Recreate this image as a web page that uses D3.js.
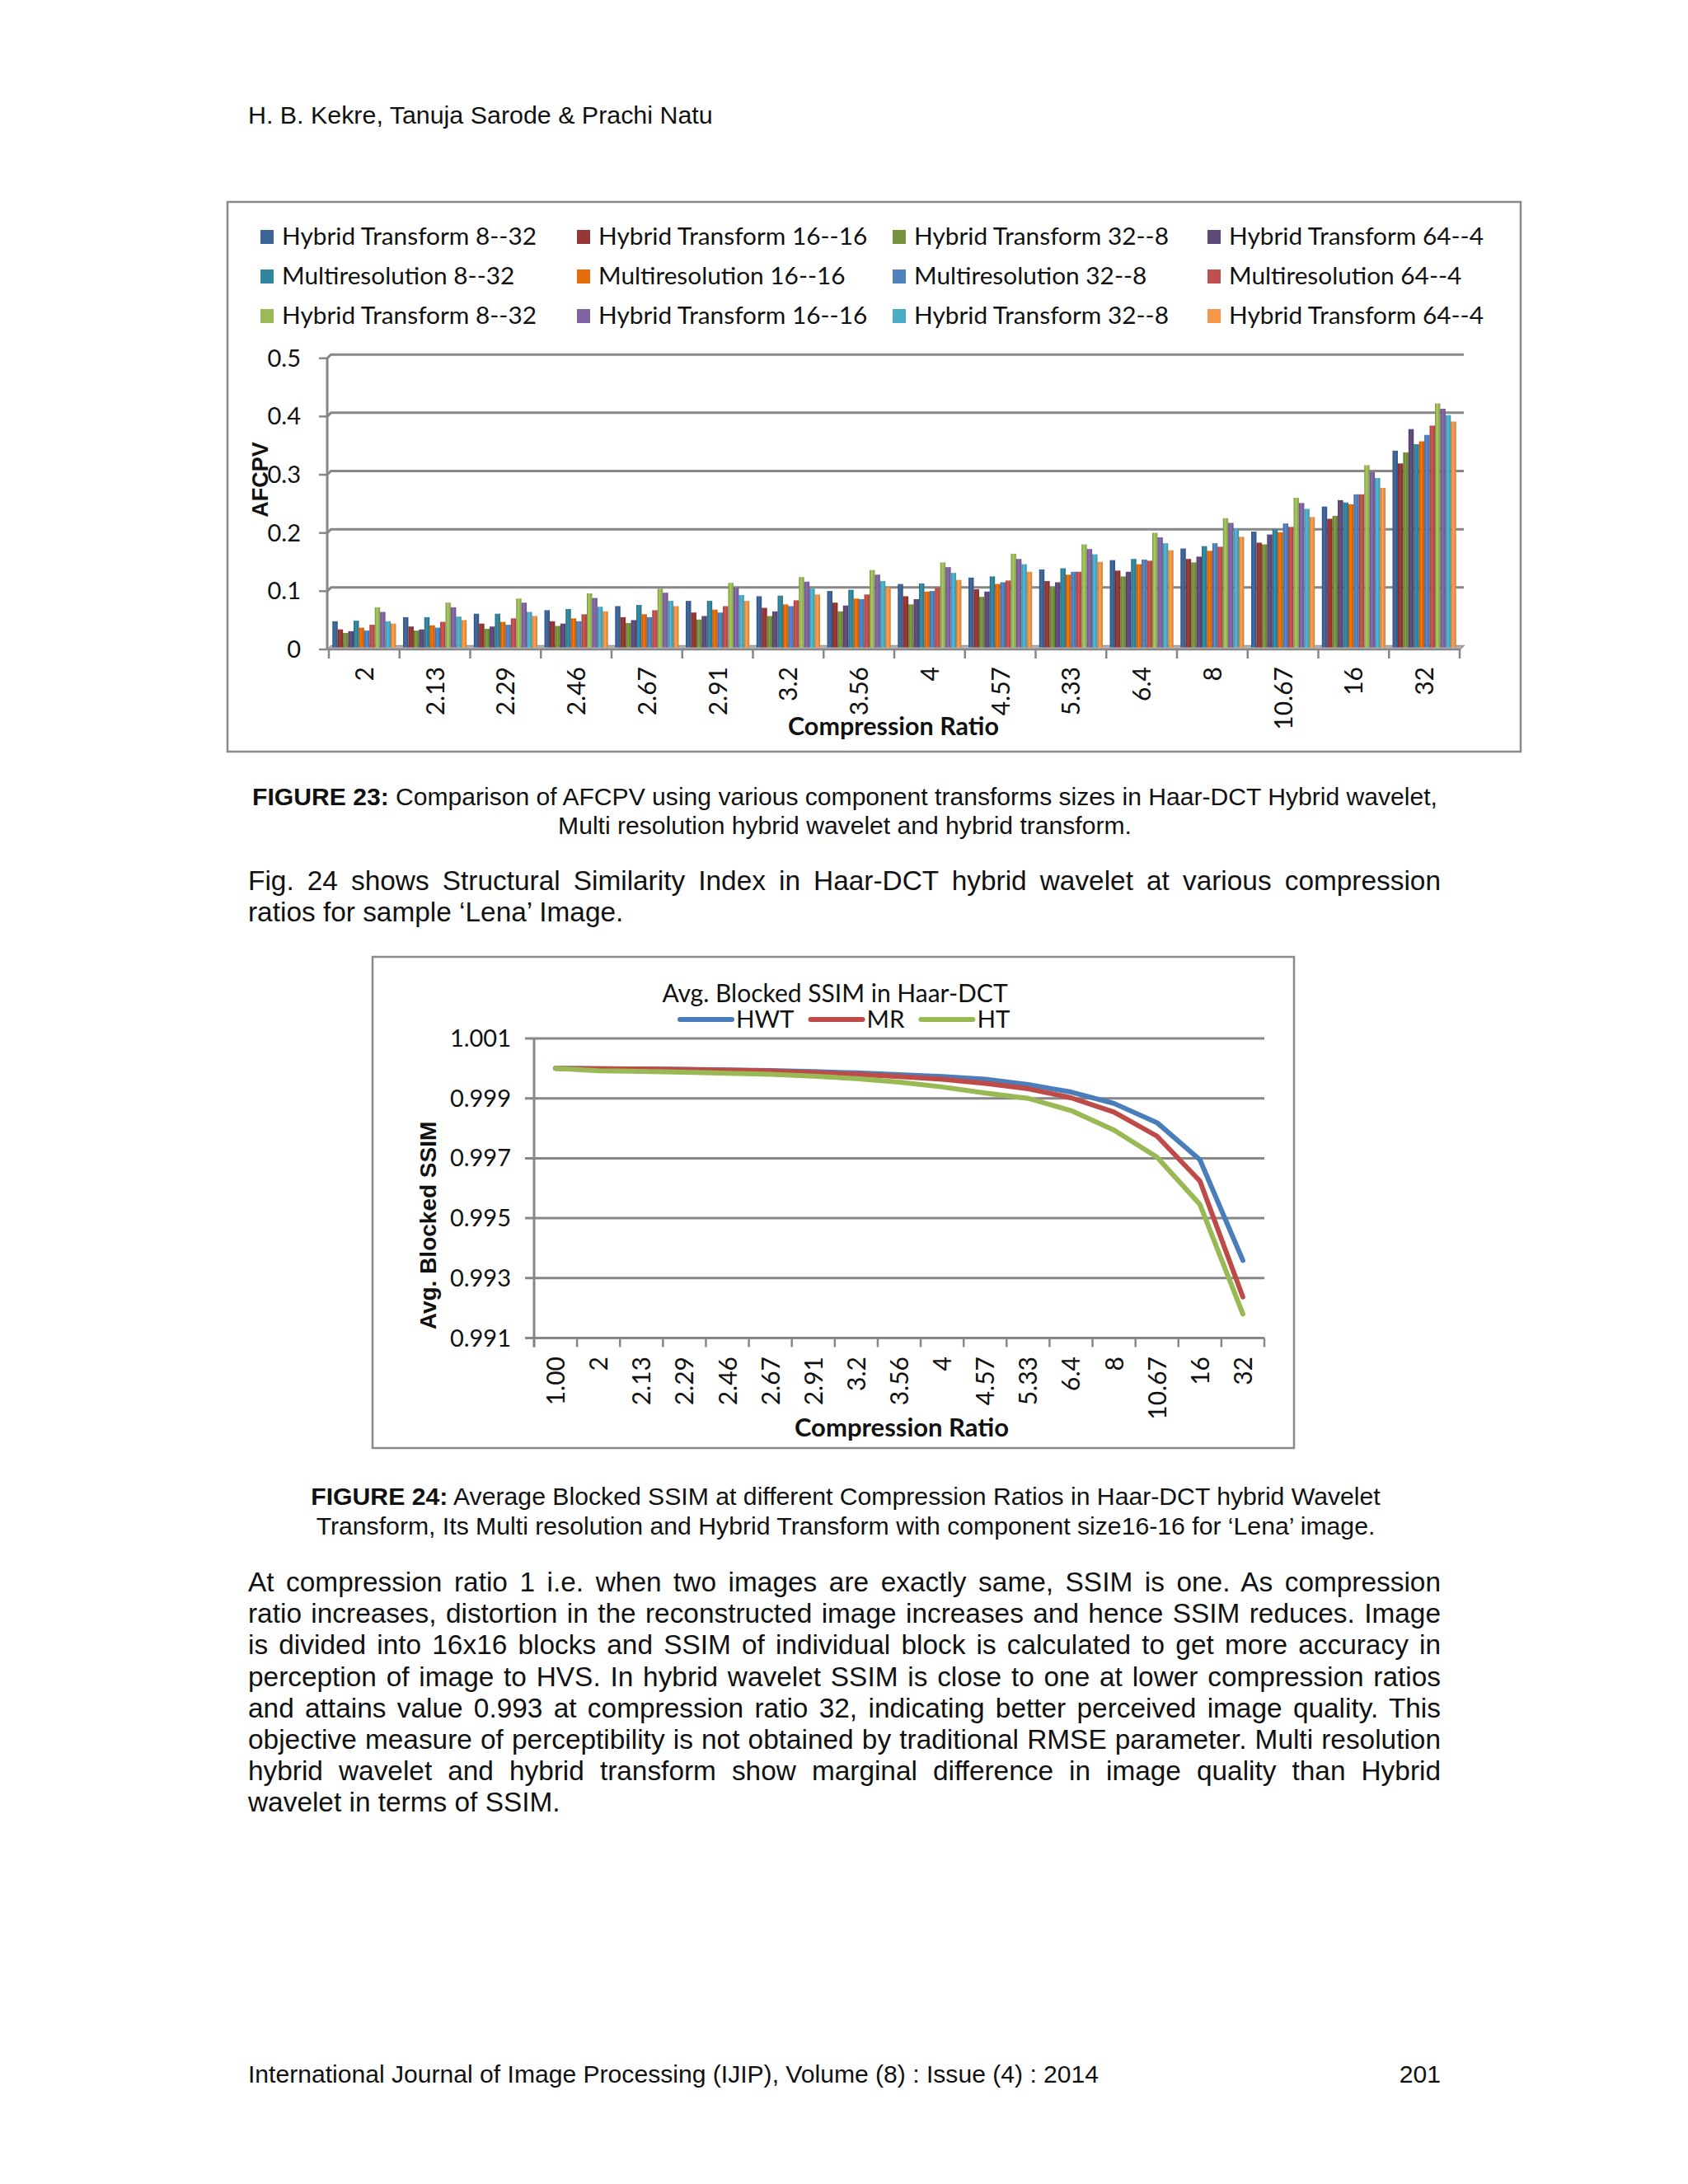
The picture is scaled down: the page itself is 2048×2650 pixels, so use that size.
<!DOCTYPE html>
<html><head><meta charset="utf-8">
<script src="https://cdn.jsdelivr.net/npm/d3@7/dist/d3.min.js"></script>
<style>body{margin:0;background:#fff}</style>
</head><body>
<svg id="page" width="2048" height="2650" xmlns="http://www.w3.org/2000/svg"></svg>
<script>
// ---------------- DATA ----------------
const categories1 = ["2","2.13","2.29","2.46","2.67","2.91","3.2","3.56","4","4.57","5.33","6.4","8","10.67","16","32"];
const seriesNames1 = ["Hybrid Transform 8--32","Hybrid Transform 16--16","Hybrid Transform 32--8","Hybrid Transform 64--4",
  "Multiresolution 8--32","Multiresolution 16--16","Multiresolution 32--8","Multiresolution 64--4",
  "Hybrid Transform 8--32","Hybrid Transform 16--16","Hybrid Transform 32--8","Hybrid Transform 64--4"];
const ht8_32   = [0.042,0.049,0.055,0.061,0.068,0.077,0.085,0.094,0.106,0.117,0.131,0.147,0.167,0.196,0.239,0.335];
const ht16_16  = [0.028,0.033,0.038,0.042,0.049,0.057,0.065,0.074,0.085,0.097,0.111,0.129,0.149,0.177,0.218,0.313];
const ht32_8   = [0.022,0.026,0.029,0.034,0.039,0.045,0.051,0.059,0.071,0.084,0.100,0.119,0.143,0.174,0.223,0.332];
const ht64_4   = [0.025,0.028,0.033,0.038,0.044,0.051,0.059,0.069,0.080,0.093,0.109,0.127,0.153,0.191,0.250,0.372];
const mr8_32   = [0.043,0.049,0.055,0.063,0.070,0.077,0.086,0.096,0.107,0.119,0.133,0.149,0.171,0.200,0.246,0.346];
const mr16_16  = [0.031,0.035,0.041,0.047,0.054,0.062,0.071,0.081,0.093,0.106,0.122,0.140,0.163,0.195,0.243,0.351];
const mr32_8   = [0.026,0.031,0.036,0.042,0.049,0.057,0.068,0.080,0.094,0.109,0.127,0.148,0.176,0.210,0.260,0.362];
const mr64_4   = [0.036,0.041,0.047,0.054,0.061,0.068,0.078,0.088,0.100,0.112,0.127,0.146,0.170,0.204,0.260,0.378];
const htb8_32  = [0.066,0.074,0.081,0.090,0.098,0.108,0.118,0.130,0.143,0.158,0.174,0.194,0.219,0.254,0.310,0.416];
const htb16_16 = [0.058,0.066,0.074,0.082,0.091,0.100,0.110,0.122,0.135,0.149,0.166,0.186,0.211,0.245,0.298,0.407];
const htb32_8  = [0.042,0.050,0.058,0.067,0.077,0.087,0.098,0.111,0.125,0.140,0.157,0.176,0.201,0.235,0.288,0.396];
const htb64_4  = [0.038,0.044,0.051,0.059,0.068,0.077,0.088,0.100,0.113,0.127,0.144,0.164,0.187,0.221,0.271,0.385];
const yTicks1 = [0, 0.1, 0.2, 0.3, 0.4, 0.5];

const categories2 = ["1.00","2","2.13","2.29","2.46","2.67","2.91","3.2","3.56","4","4.57","5.33","6.4","8","10.67","16","32"];
const seriesNames2 = ["HWT","MR","HT"];
const hwt = [1.0000,0.99999,0.99998,0.99997,0.99995,0.99993,0.99989,0.99985,0.99979,0.99973,0.99964,0.99946,0.99921,0.99883,0.99819,0.99695,0.99359];
const mr  = [1.0000,0.99999,0.99998,0.99996,0.99994,0.99991,0.99986,0.99980,0.99973,0.99964,0.99950,0.99932,0.99902,0.99854,0.99774,0.99624,0.99237];
const ht  = [1.0000,0.99992,0.99990,0.99987,0.99984,0.99980,0.99974,0.99966,0.99954,0.99938,0.99918,0.99900,0.99859,0.99794,0.99704,0.99546,0.99180];
const yTicks2 = [0.991, 0.993, 0.995, 0.997, 0.999, 1.001];

// ---------------- STYLE ----------------
const palette1 = ["#3d6497","#953735","#76923c","#604a7b","#31859c","#e46c0a",
                  "#4f81bd","#c0504d","#9bbb59","#8064a2","#4bacc6","#f79646"];
const palette2 = ["#4a7ebb","#be4b48","#98b954"];
const GRID = "#878787";
const BODY = "'Liberation Sans', Arial, sans-serif";
const CAL = "Lato, Carlito, Calibri, sans-serif";

const svg = d3.select("#page");
const defs = svg.append("defs");

// ---------------- PAGE TEXT ----------------
function txt(x, y, s, size, opts = {}) {
  const t = svg.append("text").attr("x", x).attr("y", y)
    .attr("font-family", opts.family || BODY).attr("font-size", size)
    .attr("fill", "#111").attr("text-anchor", opts.anchor || "start");
  if (opts.bold) t.attr("font-weight", "bold");
  t.text(s);
  return t;
}
function justified(x, y, width, s, size, justify) {
  const t = txt(x, y, s, size);
  if (justify) {
    const w = t.node().getComputedTextLength();
    const n = (s.match(/ /g) || []).length;
    if (n) t.attr("word-spacing", (width - w) / n);
  }
}
function caption(cx, y, boldPart, rest, size) {
  const t = svg.append("text").attr("x", cx).attr("y", y).attr("text-anchor", "middle")
    .attr("font-family", BODY).attr("font-size", size).attr("fill", "#111");
  if (boldPart) t.append("tspan").attr("font-weight", "bold").text(boldPart);
  t.append("tspan").text(rest);
}

txt(301, 150, "H. B. Kekre, Tanuja Sarode & Prachi Natu", 30.4);

caption(1025, 977, "FIGURE 23:", " Comparison of AFCPV using various component transforms sizes in Haar-DCT Hybrid wavelet,", 30.1);
caption(1025, 1012, "", "Multi resolution hybrid wavelet and hybrid transform.", 30.1);

const TXT_L = 301, TXT_W = 1447, BFS = 33.4;
justified(TXT_L, 1080, TXT_W, "Fig. 24 shows Structural Similarity Index in Haar-DCT hybrid wavelet at various compression", BFS, true);
justified(TXT_L, 1118, TXT_W, "ratios for sample \u2018Lena\u2019 Image.", BFS, false);

caption(1026, 1826, "FIGURE 24:", " Average Blocked SSIM at different Compression Ratios in Haar-DCT hybrid Wavelet", 30.2);
caption(1026, 1862, "", "Transform, Its Multi resolution and Hybrid Transform with component size16-16 for \u2018Lena\u2019 image.", 30.2);

const para = [
  "At compression ratio 1 i.e. when two images are exactly same, SSIM is one. As compression",
  "ratio increases, distortion in the reconstructed image increases and hence SSIM reduces. Image",
  "is divided into 16x16 blocks and SSIM of individual block is calculated to get more accuracy in",
  "perception of image to HVS. In hybrid wavelet SSIM is close to one at lower compression ratios",
  "and attains value 0.993 at compression ratio 32, indicating better perceived image quality. This",
  "objective measure of perceptibility is not obtained by traditional RMSE parameter. Multi resolution",
  "hybrid wavelet and hybrid transform show marginal difference in image quality than Hybrid",
  "wavelet in terms of SSIM."
];
para.forEach((s, i) => justified(TXT_L, 1931 + i * 38.2, TXT_W, s, BFS, i < para.length - 1));

txt(301, 2527, "International Journal of Image Processing (IJIP), Volume (8) : Issue (4) : 2014", 30.1);
txt(1748, 2527, "201", 30.1, {anchor: "end"});

// ---------------- CHART 1 ----------------
svg.append("rect").attr("x", 276).attr("y", 245).attr("width", 1569).attr("height", 667)
  .attr("fill", "#fff").attr("stroke", "#8a8a8a").attr("stroke-width", 2.5);

const series1 = [ht8_32, ht16_16, ht32_8, ht64_4, mr8_32, mr16_16, mr32_8, mr64_4, htb8_32, htb16_16, htb32_8, htb64_4];

palette1.forEach((c, j) => {
  const g = defs.append("linearGradient").attr("id", "bg" + j).attr("x1", 0).attr("x2", 1).attr("y1", 0).attr("y2", 0);
  g.append("stop").attr("offset", "0%").attr("stop-color", d3.color(c).darker(0.7));
  g.append("stop").attr("offset", "40%").attr("stop-color", d3.color(c).brighter(0.25));
  g.append("stop").attr("offset", "100%").attr("stop-color", d3.color(c).darker(0.5));
});

const AX1 = 397, WALLDX = 4.5, RIGHT1 = 1776;
const x0 = d3.scaleBand().domain(categories1).range([399, 1771]).paddingInner(0.1).paddingOuter(0.05);
const x1 = d3.scaleBand().domain(d3.range(12)).range([0, x0.bandwidth()]);
const yAx1 = d3.scaleLinear().domain([0, 0.5]).range([788, 434.7]);   // axis (front) scale
const y1 = d3.scaleLinear().domain([0, 0.5]).range([783.5, 430.2]);   // back-wall scale (bars, grid)

const c1 = svg.append("g");
// grid on back wall, with the short 3D diagonal from the axis
c1.selectAll(".g1").data(yTicks1.filter(d => d > 0)).join("polyline")
  .attr("points", d => `${AX1},${yAx1(d)} ${AX1 + WALLDX},${y1(d)} ${RIGHT1},${y1(d)}`)
  .attr("fill", "none").attr("stroke", GRID).attr("stroke-width", 3);
// y axis
c1.append("line").attr("x1", AX1).attr("x2", AX1).attr("y1", yAx1(0.5) - 1).attr("y2", yAx1(0) + 1)
  .attr("stroke", GRID).attr("stroke-width", 3);
c1.selectAll(".t1").data(yTicks1).join("line")
  .attr("x1", 387).attr("x2", AX1).attr("y1", d => yAx1(d)).attr("y2", d => yAx1(d))
  .attr("stroke", GRID).attr("stroke-width", 2.5);
c1.selectAll(".yl1").data(yTicks1).join("text")
  .attr("x", 365).attr("y", d => yAx1(d) + 10).attr("text-anchor", "end")
  .attr("font-family", CAL).attr("font-size", 29).attr("fill", "#111")
  .text(d => d3.format(".1~f")(d));

// floor
c1.append("polygon")
  .attr("points", `${AX1},${yAx1(0)} ${AX1 + WALLDX},${y1(0)} ${RIGHT1},${y1(0)} ${RIGHT1 - WALLDX},${yAx1(0)}`)
  .attr("fill", "#b4b4b4").attr("stroke", "#999").attr("stroke-width", 1.5);

// bars
const bars = c1.append("g");
categories1.forEach((cat, i) => {
  series1.forEach((arr, j) => {
    const v = arr[i];
    bars.append("rect")
      .attr("x", x0(cat) + x1(j)).attr("y", y1(v))
      .attr("width", x1.bandwidth()).attr("height", y1(0) - y1(v) + 2)
      .attr("fill", `url(#bg${j})`);
  });
});

// x axis ticks and labels
c1.append("line").attr("x1", AX1).attr("x2", RIGHT1 - WALLDX).attr("y1", yAx1(0)).attr("y2", yAx1(0))
  .attr("stroke", GRID).attr("stroke-width", 2.5);
const bounds1 = categories1.map(c => x0(c) - x0.step() * x0.paddingInner() / 2).concat([1771]);
c1.selectAll(".xt1").data(bounds1).join("line")
  .attr("x1", d => d).attr("x2", d => d).attr("y1", yAx1(0)).attr("y2", yAx1(0) + 11)
  .attr("stroke", GRID).attr("stroke-width", 2.5);
c1.selectAll(".xl1").data(categories1).join("text")
  .attr("transform", d => `translate(${x0(d) + x0.bandwidth() / 2 + 11},809) rotate(-90)`)
  .attr("text-anchor", "end").attr("font-family", CAL).attr("font-size", 30).attr("fill", "#111")
  .text(d => d);

// axis titles
svg.append("text").attr("transform", "translate(325,582) rotate(-90)").attr("text-anchor", "middle")
  .attr("font-family", BODY).attr("font-weight", "bold").attr("font-size", 27).attr("fill", "#111").text("AFCPV");
svg.append("text").attr("x", 1084).attr("y", 892).attr("text-anchor", "middle")
  .attr("font-family", CAL).attr("font-weight", "bold").attr("font-size", 30.5).attr("fill", "#111").text("Compression Ratio");

// legend
const legCols = [316, 700, 1083, 1465], legRows = [287, 335, 383];
seriesNames1.forEach((name, j) => {
  const cx = legCols[j % 4], cy = legRows[Math.floor(j / 4)];
  svg.append("rect").attr("x", cx).attr("y", cy - 8).attr("width", 16).attr("height", 17).attr("fill", palette1[j]);
  svg.append("text").attr("x", cx + 26).attr("y", cy + 10).attr("font-family", CAL).attr("font-size", 29.8)
    .attr("fill", "#111").text(name);
});

// ---------------- CHART 2 ----------------
svg.append("rect").attr("x", 452).attr("y", 1161).attr("width", 1118).attr("height", 596)
  .attr("fill", "#fff").attr("stroke", "#8a8a8a").attr("stroke-width", 2.5);

const x2 = d3.scaleBand().domain(categories2).range([648, 1534]);
const y2 = d3.scaleLinear().domain([0.991, 1.001]).range([1623.5, 1260]);
const c2 = svg.append("g");
c2.selectAll(".g2").data(yTicks2).join("line")
  .attr("x1", 637).attr("x2", 1534).attr("y1", d => y2(d)).attr("y2", d => y2(d))
  .attr("stroke", GRID).attr("stroke-width", 3);
c2.append("line").attr("x1", 648).attr("x2", 648).attr("y1", y2(1.001)).attr("y2", y2(0.991) + 11)
  .attr("stroke", GRID).attr("stroke-width", 3);
c2.selectAll(".yl2").data(yTicks2).join("text")
  .attr("x", 620).attr("y", d => y2(d) + 10).attr("text-anchor", "end")
  .attr("font-family", CAL).attr("font-size", 29).attr("fill", "#111")
  .text(d => d3.format(".3f")(d));
const bounds2 = categories2.map(c => x2(c)).concat([1534]);
c2.selectAll(".xt2").data(bounds2).join("line")
  .attr("x1", d => d).attr("x2", d => d).attr("y1", y2(0.991)).attr("y2", y2(0.991) + 11)
  .attr("stroke", GRID).attr("stroke-width", 2.5);
c2.selectAll(".xl2").data(categories2).join("text")
  .attr("transform", d => `translate(${x2(d) + x2.bandwidth() / 2 + 11},1646) rotate(-90)`)
  .attr("text-anchor", "end").attr("font-family", CAL).attr("font-size", 30).attr("fill", "#111")
  .text(d => d);

const series2 = [hwt, mr, ht];
const line2 = d3.line().x((d, i) => x2(categories2[i]) + x2.bandwidth() / 2).y(d => y2(d));
series2.forEach((arr, k) => {
  c2.append("path").attr("d", line2(arr)).attr("fill", "none").attr("stroke", palette2[k])
    .attr("stroke-width", 6).attr("stroke-linejoin", "round").attr("stroke-linecap", "round");
});

svg.append("text").attr("x", 1013).attr("y", 1216).attr("text-anchor", "middle")
  .attr("font-family", CAL).attr("font-size", 30).attr("fill", "#111").text("Avg. Blocked SSIM in Haar-DCT");
let lx = 825;
seriesNames2.forEach((name, k) => {
  svg.append("line").attr("x1", lx).attr("x2", lx + 63).attr("y1", 1237).attr("y2", 1237)
    .attr("stroke", palette2[k]).attr("stroke-width", 6).attr("stroke-linecap", "round");
  const t = svg.append("text").attr("x", lx + 68).attr("y", 1247).attr("font-family", CAL).attr("font-size", 29.5)
    .attr("fill", "#111").text(name);
  lx += 68 + t.node().getComputedTextLength() + 20;
});

svg.append("text").attr("transform", "translate(529,1487) rotate(-90)").attr("text-anchor", "middle")
  .attr("font-family", BODY).attr("font-weight", "bold").attr("font-size", 28).attr("fill", "#111").text("Avg. Blocked SSIM");
svg.append("text").attr("x", 1094).attr("y", 1743).attr("text-anchor", "middle")
  .attr("font-family", CAL).attr("font-weight", "bold").attr("font-size", 31).attr("fill", "#111").text("Compression Ratio");
</script>
</body></html>
